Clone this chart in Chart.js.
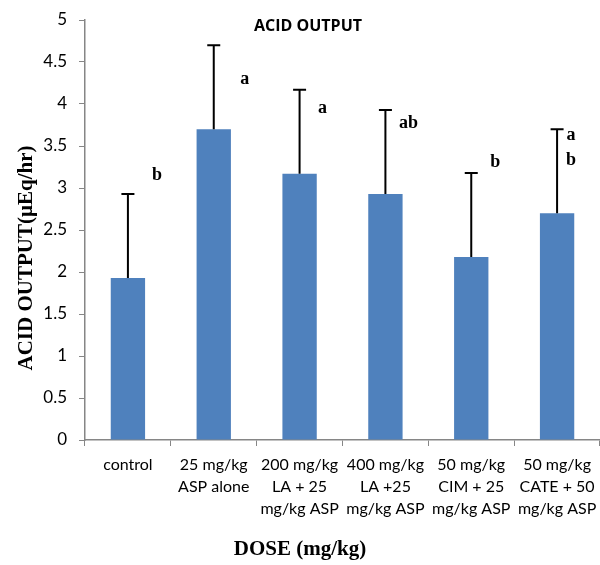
<!DOCTYPE html>
<html>
<head>
<meta charset="utf-8">
<script src="https://cdn.jsdelivr.net/npm/chart.js@4.4.0/dist/chart.umd.min.js"></script>
<style>
  html, body { margin: 0; padding: 0; background: #fff; }
</style>
</head>
<body>
<canvas id="grafico" width="600" height="565"></canvas>
<script>
const categorias = [
  ["control"],
  ["25 mg/kg", "ASP alone"],
  ["200 mg/kg", "LA + 25", "mg/kg ASP"],
  ["400 mg/kg", "LA +25", "mg/kg ASP"],
  ["50 mg/kg", "CIM + 25", "mg/kg ASP"],
  ["50 mg/kg", "CATE + 50", "mg/kg ASP"]
];
const medias = [1.93, 3.70, 3.17, 2.93, 2.18, 2.70];
const errores = [1.0, 1.0, 1.0, 1.0, 1.0, 1.0];
const letras = [["b"], ["a"], ["a"], ["ab"], ["b"], ["a", "b"]];
// altura (en unidades del eje) donde va cada letra
const letrasNivel = [[3.15], [4.29], [3.95], [3.77], [3.30], [3.63, 3.33]];
const letrasDx = [29, 31, 23, 23, 24, 14];
const yTicks = [0, 0.5, 1, 1.5, 2, 2.5, 3, 3.5, 4, 4.5, 5];

const ejeColor = "#868686";

const barrasError = {
  id: "barrasError",
  afterDatasetsDraw(chart) {
    const ctx = chart.ctx;
    const y = chart.scales.y;
    const meta = chart.getDatasetMeta(0);
    ctx.save();
    meta.data.forEach((bar, i) => {
      const yTop = y.getPixelForValue(medias[i] + errores[i]);
      const yBase = y.getPixelForValue(medias[i]);
      ctx.strokeStyle = "#000";
      ctx.lineWidth = 2;
      ctx.beginPath();
      ctx.moveTo(bar.x, yBase);
      ctx.lineTo(bar.x, yTop);
      ctx.moveTo(bar.x - 6.5, yTop);
      ctx.lineTo(bar.x + 6.5, yTop);
      ctx.stroke();

      ctx.fillStyle = "#000";
      ctx.font = "bold 18px 'Liberation Serif'";
      ctx.textAlign = "center";
      ctx.textBaseline = "middle";
      letras[i].forEach((t, k) => {
        ctx.fillText(t, bar.x + letrasDx[i], y.getPixelForValue(letrasNivel[i][k]));
      });
    });

    // titulo
    ctx.font = "bold 16px 'Open Sans'";
    ctx.textAlign = "center";
    ctx.textBaseline = "middle";
    ctx.fillText("ACID OUTPUT", 308, 26);

    // titulos de ejes
    ctx.font = "bold 21px 'Liberation Serif'";
    ctx.fillText("DOSE (mg/kg)", 300, 550);
    ctx.translate(27, 258);
    ctx.rotate(-Math.PI / 2);
    ctx.fillText("ACID OUTPUT(µEq/hr)", 0, 0);
    ctx.restore();
  }
};

new Chart(document.getElementById("grafico").getContext("2d"), {
  type: "bar",
  data: {
    labels: categorias,
    datasets: [{
      data: medias,
      backgroundColor: "#4F81BD",
      borderWidth: 0,
      categoryPercentage: 1,
      barPercentage: 0.4
    }]
  },
  options: {
    responsive: false,
    animation: false,
    devicePixelRatio: 1,
    layout: { padding: { top: 20, right: -2, left: 0, bottom: 0 } },
    plugins: {
      legend: { display: false },
      tooltip: { enabled: false }
    },
    scales: {
      x: {
        offset: true,
        grid: { display: true, drawOnChartArea: false, offset: true, color: ejeColor, tickLength: 6 },
        border: { color: ejeColor, width: 1.5 },
        ticks: {
          color: "#000", font: { family: "Lato", size: 16, lineHeight: 1.38 },
          maxRotation: 0, autoSkip: false, padding: 8
        },
        afterFit(scale) {
          scale.height = 125;
          scale.paddingLeft = 0;
          scale.paddingRight = 0;
        }
      },
      y: {
        min: 0, max: 5,
        afterBuildTicks(scale) { scale.ticks = yTicks.map(v => ({ value: v })); },
        grid: { display: true, drawOnChartArea: false, color: ejeColor, tickLength: 6 },
        border: { color: ejeColor, width: 1.5 },
        ticks: {
          color: "#000", font: { family: "Lato", size: 17 }, padding: 12,
          callback: v => String(v)
        },
        afterFit(scale) {
          scale.width = 85;
          scale.paddingTop = 0;
          scale.paddingBottom = 0;
        }
      }
    }
  },
  plugins: [barrasError]
});
</script>
</body>
</html>
